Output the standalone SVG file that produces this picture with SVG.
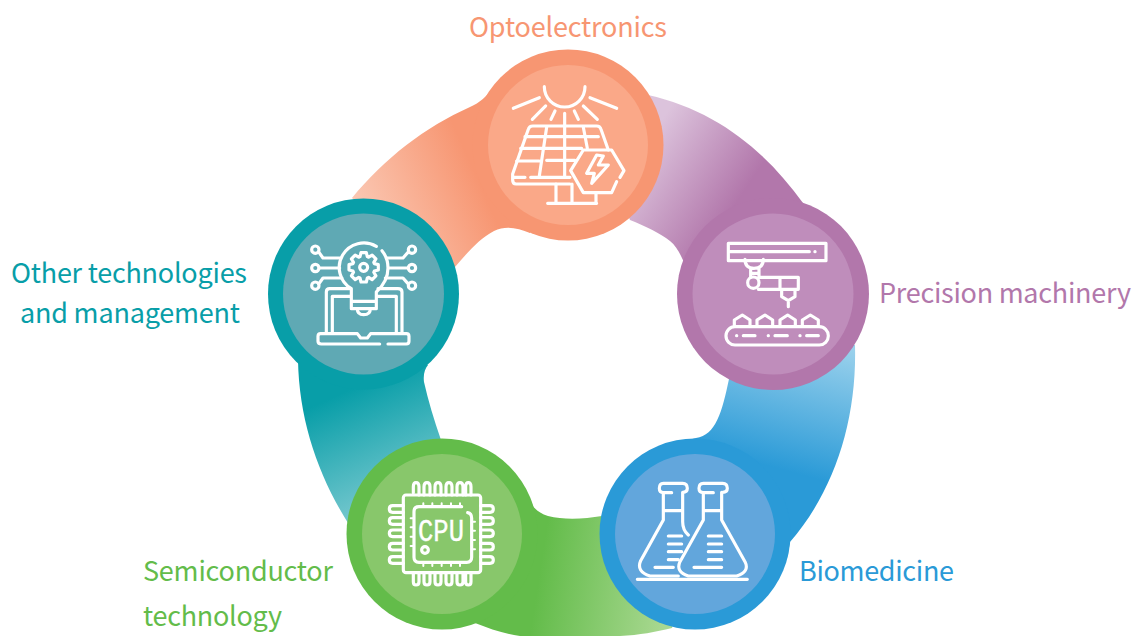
<svg xmlns="http://www.w3.org/2000/svg" width="1139" height="636" viewBox="0 0 1139 636">
<style>
.lbl{font-family:"Noto Sans CJK SC","Noto Sans","Liberation Sans",sans-serif;font-size:27px}
.ic{fill:none;stroke:#fff;stroke-width:9.500;stroke-linecap:round;stroke-linejoin:round}
.dot{fill:#fff}
</style>
<defs>
<linearGradient id="gO" gradientUnits="userSpaceOnUse" x1="355" y1="235" x2="478" y2="180"><stop offset="0" stop-color="#FBCDBA"/><stop offset="1" stop-color="#F79672"/></linearGradient>
<linearGradient id="gP" gradientUnits="userSpaceOnUse" x1="655" y1="130" x2="745" y2="190"><stop offset="0" stop-color="#DCC3DC"/><stop offset="1" stop-color="#B277AB"/></linearGradient>
<linearGradient id="gB" gradientUnits="userSpaceOnUse" x1="800" y1="335" x2="765" y2="465"><stop offset="0" stop-color="#9AD1EC"/><stop offset="1" stop-color="#2A9AD7"/></linearGradient>
<linearGradient id="gG" gradientUnits="userSpaceOnUse" x1="540" y1="570" x2="670" y2="590"><stop offset="0" stop-color="#63BC4A"/><stop offset="1" stop-color="#A9D891"/></linearGradient>
<linearGradient id="gT" gradientUnits="userSpaceOnUse" x1="345" y1="392" x2="405" y2="525"><stop offset="0" stop-color="#089EA8"/><stop offset="1" stop-color="#8CD0D6"/></linearGradient>
</defs>
<g id="connectors">
<path fill="url(#gO)" d="M352 198C385 158 425 127 470 107C480 103 486 96 495 87L560 150L530 233C518 228 506 225 494 231C480 238 467 253 455 267L400 240Z"/>
<path fill="url(#gP)" d="M648 95C715 110 765 150 803 203L830 280L690 280C686 268 681 250 670 241C660 233 645 226 630 220L600 150Z"/>
<path fill="url(#gB)" d="M855 345C857 420 835 490 790 542L787 558L740 520L682 442C686 441 691 439 696 438C716 435 722 412 729 379L780 340Z"/>
<path fill="url(#gG)" d="M523 487C529 500 532 511 548 516C564 520 584 519 602 516L680 600L672 628C655 632 640 635 620 636L520 636C505 634 490 629 475 623L450 540Z"/>
<path fill="url(#gT)" d="M298 360C299 420 318 475 348 523L400 500L441 440C434 420 428 400 424 382C423 374 425 369 428 365L370 330Z"/>
</g>
<g id="optoelectronics">
<circle cx="568" cy="145" r="95.500" fill="#F79672"/>
<circle cx="568" cy="145" r="80" fill="#FAA888"/>
<g class="ic" transform="translate(480 50) scale(.3333)">
<path d="M193 110A61 61 0 0 0 315 110M100 175L178 143M157 208L197 168M213 208L225 183M254 190V378M283 183L295 208M310 168L352 208M330 143L410 175"/>
<path d="M270 402H108Q98 402 98 390V372L145 238Q148 228 158 228H350Q360 228 363 238L385 300"/>
<path d="M135 260H355M122 295H305M110 333H178M200 331H285M100 382H135M152 382H270M200 232L178 378M310 232L322 295"/>
<path d="M410 395L395 428H310L272 362L310 300H395L432 362L420 382"/>
<path d="M350 315L320 370H343L335 400L385 345H355L370 318Z"/>
<path d="M228 402V458M276 402V458M203 460H350M348 430V458"/>
</g>
<text class="lbl" x="568" y="37" text-anchor="middle" fill="#F79672" textLength="198">Optoelectronics</text>
</g>
<g id="precision-machinery">
<circle cx="773" cy="294" r="96" fill="#B277AB"/>
<circle cx="773" cy="294" r="80.500" fill="#BF8DBB"/>
<g class="ic" transform="translate(680 200) scale(.3333)">
<rect x="145" y="130" width="293" height="52"/>
<path d="M150 155H388M195 182V178Q195 205 222 205Q250 205 250 178V182M212 205V232M237 205V232M212 220H237"/>
<circle cx="220" cy="248" r="17"/>
<path d="M237 232H355V268H235M300 232V268M305 268V290L325 302L345 290V268M325 302V320"/>
<rect x="138" y="380" width="307" height="55" rx="27"/>
<path d="M190 407H225M285 407H322M380 407H415M163 375V360L187 345L210 360V375M231 375V360L255 345L278 360V375M300 375V360L323 345L346 360V375M367 375V360L391 345L415 360V375"/>
<circle class="dot" cx="405" cy="155" r="5" stroke="none"/>
<circle class="dot" cx="170" cy="407" r="5" stroke="none"/>
<circle class="dot" cx="265" cy="407" r="5" stroke="none"/>
<circle class="dot" cx="360" cy="407" r="5" stroke="none"/>
</g>
<text class="lbl" x="879" y="303" fill="#B277AB" textLength="252">Precision machinery</text>
</g>
<g id="biomedicine">
<circle cx="695" cy="534" r="95.500" fill="#2A9AD7"/>
<circle cx="695" cy="534" r="80" fill="#62A6DC"/>
<g class="ic" transform="translate(600 440) scale(.3333)">
<path d="M215 158H190Q178 158 178 145Q178 130 190 130H248Q262 130 262 145Q262 157 248 157M190 160V240L122 362Q108 395 150 408H235M248 157V245Q248 270 265 285M190 212H245"/>
<path d="M205 288H245M205 312H245M205 335H245M205 359H235M165 382H220"/>
<path d="M340 158H310Q297 158 297 145Q297 130 310 130H368Q382 130 382 145Q382 157 368 157M310 160V240L240 365Q226 395 265 408H410Q450 395 435 365L365 240V157M310 212H365"/>
<path d="M325 288H365M325 312H365M325 335H365M325 359H365M282 382H365M112 418H442"/>
</g>
<text class="lbl" x="799" y="581" fill="#2A9AD7" textLength="155">Biomedicine</text>
</g>
<g id="semiconductor-technology">
<circle cx="442" cy="534" r="95.500" fill="#63BC4A"/>
<circle cx="442" cy="534" r="80" fill="#88C76B"/>
<g class="ic" transform="translate(345 440) scale(.3333)">
<rect x="175" y="165" width="232" height="233" rx="8"/>
<path d="M350 200H222Q207 200 207 215V352Q207 367 222 367H365Q380 367 380 352V235Q380 220 368 218"/>
<path d="M205 158V140Q205 128 213 128Q222 128 222 140V165M237 165V140Q237 128 246 128Q255 128 255 140V165M270 165V140Q270 128 279 128Q288 128 288 140V165M303 165V140Q303 128 312 128Q321 128 321 140V165M336 165V140Q336 128 345 128Q354 128 354 140V165M362 165V140Q362 128 370 128Q378 128 378 140V165"/>
<path d="M205 398V425Q205 435 213 435Q222 435 222 425V398M237 398V425Q237 435 246 435Q255 435 255 425V398M270 398V425Q270 435 279 435Q288 435 288 425V398M303 398V425Q303 435 312 435Q321 435 321 425V398M336 398V425Q336 435 345 435Q354 435 354 425V398M362 398V425Q362 435 370 435Q378 435 378 425V398"/>
<path d="M175 197H143Q133 197 133 207Q133 217 143 217H175M175 233H143Q133 233 133 243Q133 253 143 253H175M175 270H143Q133 270 133 280Q133 290 143 290H175M175 310H143Q133 310 133 320Q133 330 143 330H175M175 350H143Q133 350 133 360Q133 370 143 370H175"/>
<path d="M407 197H435Q445 197 445 207Q445 217 435 217H407M407 233H435Q445 233 445 243Q445 253 435 253H407M407 270H435Q445 270 445 280Q445 290 435 290H407M407 310H435Q445 310 445 320Q445 330 435 330H407M407 350H435Q445 350 445 360Q445 370 435 370H407"/>
<path stroke-width="6" d="M235 190V198M262 190V198M290 190V198M318 190V198M345 190V198M235 369V378M262 369V378M290 369V378M318 369V378M345 369V378M197 235H205M197 262H205M197 290H205M197 318H205M382 245H390M382 272H390M382 300H390M382 328H390"/>
<circle cx="240" cy="330" r="10"/>
</g>
<text x="441" y="541" fill="#fff" stroke="#fff" stroke-width=".4" font-family="Liberation Mono, monospace" font-size="31" text-anchor="middle" textLength="46" lengthAdjust="spacingAndGlyphs">CPU</text>
<text class="lbl" x="143" y="581" fill="#63BC4A" textLength="190">Semiconductor</text>
<text class="lbl" x="143" y="626" fill="#63BC4A" textLength="139">technology</text>
</g>
<g id="other-technologies">
<circle cx="363.500" cy="294" r="95.500" fill="#089EA8"/>
<circle cx="363.500" cy="294" r="80.500" fill="#5FA9B4"/>
<g class="ic" transform="translate(268 198) scale(.3333)">
<path d="M325 145A72 72 0 0 0 250 272V310H325V282Q360 250 360 210Q360 180 342 158M250 332H325V310M268 332Q268 350 287 350Q307 350 307 332M250 310V332"/>
<g transform="translate(287 208)"><path d="M30.400 14.800L36.800 25.500L25.500 36.800L14.800 30.400L11 32L8 44H-8L-11 32L-14.800 30.400L-25.500 36.800L-36.800 25.500L-30.400 14.800L-32 11L-44 8V-8L-32 -11L-30.400 -14.800L-36.800 -25.500L-25.500 -36.800L-14.800 -30.400L-11 -32L-8 -44H8L11 -32L14.800 -30.400L25.500 -36.800L36.800 -25.500L30.400 -14.800L32 -11L44 -8V8L32 11Z"/><circle r="12"/></g>
<circle cx="142" cy="155" r="11"/><circle cx="142" cy="210" r="11"/><circle cx="142" cy="263" r="11"/>
<circle cx="432" cy="155" r="11"/><circle cx="432" cy="210" r="11"/><circle cx="432" cy="263" r="11"/>
<path d="M153 163L165 180H215M153 210H215M153 257L165 240H222M420 163L405 180H358M420 210H362M420 257L405 240H352"/>
<path d="M245 272H185Q175 272 175 282V405M330 272H390Q402 272 402 282V405M248 295H193V405M328 295H385V405"/>
<path d="M335 438H160Q150 438 150 430V415Q150 407 158 407H268L278 420H298L308 407H415Q423 407 423 415V430Q423 438 415 438H360"/>
</g>
<text class="lbl" x="129" y="283" text-anchor="middle" fill="#089EA8" textLength="236">Other technologies</text>
<text class="lbl" x="130" y="323" text-anchor="middle" fill="#089EA8" textLength="220">and management</text>
</g>
</svg>
